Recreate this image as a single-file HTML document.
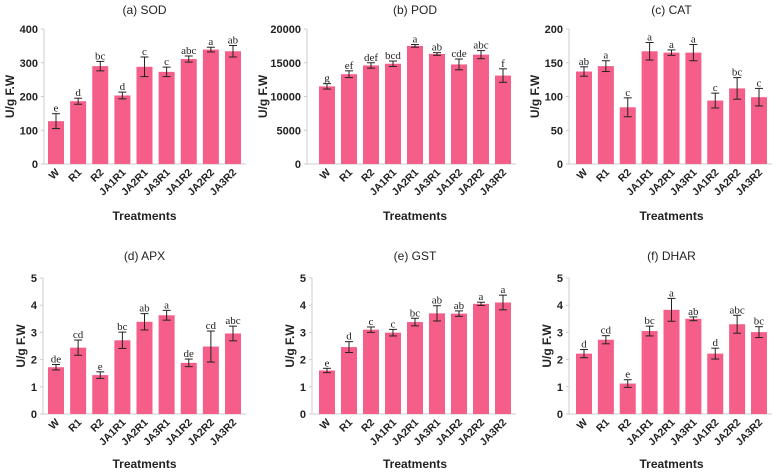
<!DOCTYPE html>
<html><head><meta charset="utf-8">
<style>
body{margin:0;background:#fff;width:777px;height:473px;overflow:hidden}
svg{display:block;font-family:"Liberation Sans",sans-serif}
</style></head>
<body>
<svg id="c" width="777" height="473"></svg>
<script>
const categories=["W","R1","R2","JA1R1","JA2R1","JA3R1","JA1R2","JA2R2","JA3R2"];
const sodValues=[127,186,290,203,288,273,311,339,334];
const sodErrors=[22,9,14,10,29,14,9,7,17];
const sodLetters=["e","d","bc","d","c","c","abc","a","ab"];
const podValues=[11500,13300,14600,14850,17500,16300,14750,16200,13100];
const podErrors=[400,500,400,400,200,200,800,600,1000];
const podLetters=["g","ef","def","bcd","a","ab","cde","abc","f"];
const catValues=[137,145,84,167,165,165,94,112,99];
const catErrors=[7,8,14,13,4,12,11,16,13];
const catLetters=["ab","a","c","a","a","a","c","bc","c"];
const apxValues=[1.72,2.44,1.43,2.71,3.39,3.63,1.88,2.48,2.96];
const apxErrors=[0.1,0.28,0.12,0.3,0.3,0.18,0.14,0.57,0.27];
const apxLetters=["de","cd","e","bc","ab","a","de","cd","abc"];
const gstValues=[1.6,2.46,3.1,2.99,3.38,3.7,3.69,4.05,4.1];
const gstErrors=[0.08,0.2,0.1,0.12,0.14,0.28,0.1,0.06,0.27];
const gstLetters=["e","d","c","c","bc","ab","ab","a","a"];
const dharValues=[2.22,2.73,1.12,3.05,3.83,3.5,2.22,3.3,3.01];
const dharErrors=[0.15,0.15,0.14,0.18,0.42,0.07,0.2,0.33,0.2];
const dharLetters=["d","cd","e","bc","a","ab","d","abc","bc"];
const panelTitles=["(a) SOD","(b) POD","(c) CAT","(d) APX","(e) GST","(f) DHAR"];
const yTicksTop=[[0,100,200,300,400],[0,5000,10000,15000,20000],[0,50,100,150,200]];
const yTicksBottom=[0,1,2,3,4,5];

const svg=document.getElementById('c');
const NS="http://www.w3.org/2000/svg";
function mk(tag,attrs,parent,text){const e=document.createElementNS(NS,tag);for(const k in attrs)e.setAttribute(k,attrs[k]);if(text!==undefined)e.textContent=text;parent.appendChild(e);return e;}

const panels=[
 {vals:sodValues,errs:sodErrors,lets:sodLetters,ticks:yTicksTop[0],ax:44,x0:56,x1:233,yTop:29,yBot:164,tY:14,trY:220},
 {vals:podValues,errs:podErrors,lets:podLetters,ticks:yTicksTop[1],ax:307,x0:327,x1:503,yTop:29,yBot:164,tY:14,trY:220},
 {vals:catValues,errs:catErrors,lets:catLetters,ticks:yTicksTop[2],ax:569,x0:584,x1:759,yTop:29,yBot:164,tY:14,trY:220},
 {vals:apxValues,errs:apxErrors,lets:apxLetters,ticks:yTicksBottom,ax:43,x0:56,x1:233,yTop:278,yBot:414,tY:260,trY:468},
 {vals:gstValues,errs:gstErrors,lets:gstLetters,ticks:yTicksBottom,ax:312,x0:327,x1:503,yTop:278,yBot:414,tY:260,trY:468},
 {vals:dharValues,errs:dharErrors,lets:dharLetters,ticks:yTicksBottom,ax:569,x0:584,x1:759,yTop:278,yBot:414,tY:260,trY:468}
];
panels.forEach((p,pi)=>{
 const g=mk('g',{},svg);
 
 
 const max=p.ticks[p.ticks.length-1];
 const y=v=>p.yBot-(v/max)*(p.yBot-p.yTop);
 const step=(p.x1-p.x0)/(categories.length-1);
 const x=i=>p.x0+i*step;
 const cx=(p.x0+p.x1)/2;
 const t=mk('text',{x:cx,y:p.tY,'text-anchor':'middle','font-size':12,fill:'#222'},g,panelTitles[pi]);
 
 
 mk('line',{x1:p.ax,y1:p.yTop,x2:p.ax,y2:p.yBot,stroke:'#ccc','stroke-width':1},g);
 mk('line',{x1:p.ax,y1:p.yBot,x2:p.x1+13,y2:p.yBot,stroke:'#ccc','stroke-width':1},g);
 p.ticks.forEach(tv=>{
  mk('line',{x1:p.ax-3,y1:y(tv),x2:p.ax,y2:y(tv),stroke:'#ccc'},g);
  const tl=mk('text',{x:p.ax-6,y:y(tv)+4,'text-anchor':'end','font-size':11,'font-weight':'bold',fill:'#222'},g,String(tv));
  
  
 });
 const yl=mk('text',{transform:`translate(${p.ax-(max>=10000?40:max>=100?30:18)},${(p.yTop+p.yBot)/2}) rotate(-90)`,'text-anchor':'middle','font-size':12,'font-weight':'bold',fill:'#222'},g,'U/g F.W');
 
 
 p.vals.forEach((v,i)=>{
  const b=mk('rect',{x:x(i)-8,y:y(v),width:16,height:p.yBot-y(v),fill:'#f65e8a'},g);
  
  
  const e=p.errs[i],hi=y(v+e),lo=y(v-e);
  mk('line',{x1:x(i),y1:hi,x2:x(i),y2:lo,stroke:'#222','stroke-width':1},g);
  mk('line',{x1:x(i)-4,y1:hi,x2:x(i)+4,y2:hi,stroke:'#222','stroke-width':1},g);
  mk('line',{x1:x(i)-4,y1:lo,x2:x(i)+4,y2:lo,stroke:'#222','stroke-width':1},g);
  const lt=mk('text',{x:x(i),y:hi-2,'text-anchor':'middle','font-size':11,'font-family':'Liberation Serif,serif',fill:'#222'},g,p.lets[i]);
  
  
  const xl=mk('text',{transform:`translate(${x(i)+4},${p.yBot+9}) rotate(-45)`,'text-anchor':'end','font-size':10.5,'font-weight':'bold',fill:'#222'},g,categories[i]);
  
  
 });
 const xt=mk('text',{x:cx,y:p.trY,'text-anchor':'middle','font-size':12,'font-weight':'bold',fill:'#222'},g,'Treatments');
 
 
});
</script>
</body></html>
